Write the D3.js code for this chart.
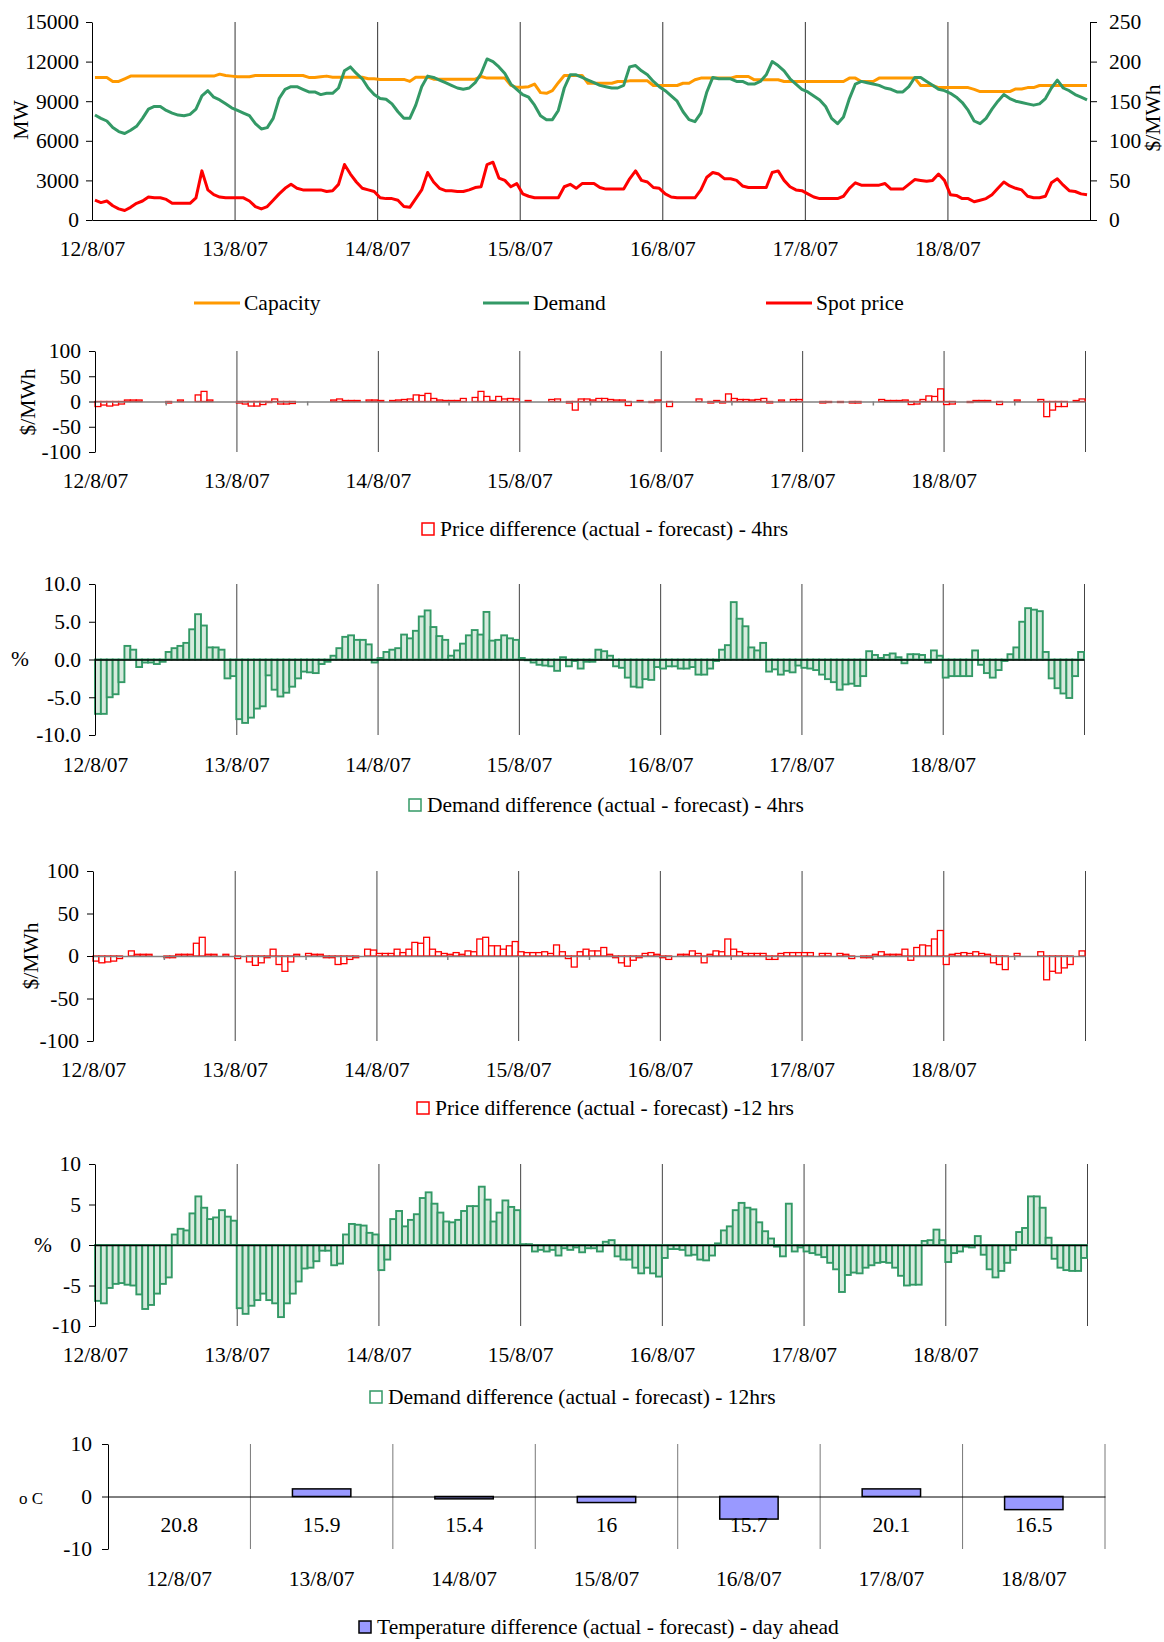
<!DOCTYPE html>
<html>
<head>
<meta charset="utf-8">
<script src="https://cdn.jsdelivr.net/npm/d3@7"></script>
<style>
  body { margin: 0; background: #fff; }
  svg { display: block; font-family: 'Liberation Serif', 'Times New Roman', serif; }
  text { fill: #000; }
</style>
</head>
<body>
<div id="app"></div>
<script>
// Hourly values, 12/8/07 00:00 to 18/8/07 23:00 (24 per day)
const dayLabels = ['12/8/07', '13/8/07', '14/8/07', '15/8/07', '16/8/07', '17/8/07', '18/8/07'];

// MW
const capacity = [
  10800,10800,10800,10500,10500,10700,10900,10900,10900,10900,10900,10900,10900,10900,10900,10900,10900,10900,10900,10900,10900,11050,10950,10900,
  10850,10850,10850,10950,10950,10950,10950,10950,10950,10950,10950,10950,10800,10800,10850,10900,10820,10820,10820,10820,10820,10820,10700,10700,
  10650,10650,10650,10650,10650,10500,10820,10820,10820,10670,10670,10670,10670,10670,10670,10670,10670,10870,10750,10750,10750,10750,10200,10050,
  10050,10100,10300,9650,9600,9800,10400,10950,10950,10950,10950,10360,10360,10360,10360,10360,10490,10490,10540,10540,10540,10540,10190,10190,
  10190,10190,10190,10360,10360,10620,10750,10750,10750,10750,10750,10750,10870,10870,10870,10620,10620,10620,10620,10620,10490,10490,10490,10490,
  10490,10490,10490,10490,10490,10490,10490,10750,10750,10490,10490,10490,10750,10750,10750,10750,10750,10750,10750,10190,10190,10190,10030,10030,
  10030,10030,10030,10030,9900,9730,9730,9730,9730,9730,9730,9930,9930,10030,10030,10190,10190,10190,10190,10190,10190,10190,10190,10190
];
const demand = [
  7950,7700,7500,7000,6700,6550,6800,7100,7700,8400,8600,8600,8300,8100,7950,7900,8000,8400,9400,9800,9300,9100,8800,8500,
  8300,8100,7900,7300,6900,7000,7700,9200,9900,10100,10100,9900,9700,9700,9500,9600,9600,10000,11300,11600,11100,10700,10000,9500,
  9200,9150,8800,8200,7700,7700,8700,10100,10900,10800,10600,10400,10200,10000,9900,10000,10400,11100,12200,12000,11600,11100,10300,9900,
  9500,9300,8700,7900,7600,7600,8300,10000,11000,11000,10800,10600,10400,10200,10100,10000,10000,10200,11600,11700,11300,11000,10500,10100,
  9800,9400,9000,8200,7600,7450,8100,9700,10800,10700,10700,10700,10500,10500,10300,10300,10500,11000,12000,11700,11300,10700,10300,9900,
  9700,9400,9100,8600,7700,7300,7800,9200,10300,10500,10400,10300,10200,10000,9900,9700,9700,10100,10800,10800,10500,10200,9900,9800,
  9600,9300,8900,8300,7500,7300,7700,8400,9000,9500,9200,9000,8900,8800,8700,8800,9200,10000,10600,10000,9800,9500,9300,9100
];
// $/MWh
const spotPrice = [
  25,22,24,18,14,12,16,21,24,29,28,28,26,21,21,21,21,28,62,38,32,29,28,28,
  28,28,24,17,14,17,25,33,40,45,40,38,38,38,38,36,37,45,70,58,48,40,38,36,
  28,27,27,25,17,16,27,38,60,48,40,37,37,36,36,38,41,42,70,73,53,50,42,46,
  33,30,28,28,28,28,28,42,45,40,46,46,46,41,39,39,39,39,52,62,50,48,41,40,
  33,29,28,28,28,28,38,54,60,58,52,52,50,43,41,41,41,41,60,62,50,42,38,37,
  33,29,27,27,27,27,30,40,47,44,44,44,44,46,39,39,39,45,51,50,49,50,58,50,
  32,31,27,27,23,25,27,32,40,48,43,40,38,30,28,28,30,47,52,44,37,36,33,32
];
// $/MWh, actual - forecast 4 hours ahead
const priceDiff4h = [
  -10,-7,-9,-7,-5,3,3,3,0,0,0,0,-3,0,3,0,0,13,20,3,0,0,0,0,
  -3,-5,-9,-9,-6,-2,5,-5,-5,-4,0,0,0,0,0,0,3,5,2,2,2,0,3,3,
  2,0,2,3,4,5,13,12,16,6,3,2,2,2,6,0,8,20,10,2,10,5,6,5,
  0,2,0,0,0,4,5,0,-3,-17,5,5,3,6,6,4,3,3,-8,0,2,0,-2,3,
  0,-10,0,0,0,0,5,0,-3,2,-3,15,6,4,4,3,4,6,-3,0,3,0,4,4,
  0,0,0,-3,-2,0,-2,0,-3,-3,0,0,0,4,2,2,2,3,-6,-5,4,11,10,25,
  -6,-5,0,0,-2,2,2,2,0,-6,0,0,3,0,0,0,4,-30,-17,-10,-10,0,2,5
];
// %, actual - forecast 4 hours ahead
const demandDiff4h = [
  -7.2,-7.2,-5.0,-4.6,-3.0,1.8,1.3,-1.0,-0.4,-0.4,-0.6,-0.3,1.0,1.5,1.8,2.2,4.0,6.0,4.5,1.6,1.6,1.3,-2.5,-2.2,
  -7.9,-8.4,-7.7,-6.5,-6.2,-2.1,-4.0,-4.9,-4.4,-3.6,-2.5,-1.6,-1.7,-1.8,-0.6,-0.3,0.5,1.5,3.0,3.2,2.6,2.6,2.0,-0.4,
  0.2,1.0,1.3,1.5,3.3,2.8,3.8,5.7,6.5,4.3,3.1,2.6,0.5,1.2,2.1,3.2,3.9,3.3,6.3,2.5,2.6,3.2,2.8,2.6,
  0.2,-0.1,-0.4,-0.7,-0.8,-0.9,-1.5,0.3,-0.9,-0.2,-1.2,-0.3,-0.3,1.3,1.1,0.5,-0.9,-1.1,-2.4,-3.6,-3.7,-2.6,-2.7,-1.0,
  -1.2,-0.9,-0.9,-1.2,-1.2,-1.0,-2.0,-2.0,-1.2,-0.2,1.3,1.9,7.6,5.4,4.4,1.6,1.2,2.2,-1.6,-1.3,-2.0,-1.5,-1.7,-0.8,
  -1.1,-1.2,-1.4,-2.0,-2.6,-3.0,-4.0,-3.3,-3.2,-3.5,-2.2,1.1,0.6,0.2,0.6,0.8,0.3,-0.5,0.7,0.7,0.6,-0.4,1.2,0.5,
  -2.4,-2.2,-2.2,-2.2,-2.2,1.2,-0.7,-1.8,-2.4,-1.4,-0.2,0.7,1.6,5.0,6.8,6.6,6.4,1.0,-2.5,-3.8,-4.5,-5.1,-2.2,1.0
];
// $/MWh, actual - forecast 12 hours ahead
const priceDiff12h = [
  -6,-8,-7,-6,-3,0,6,2,2,2,0,0,-2,-2,2,2,2,15,22,2,2,0,2,0,
  -3,0,-7,-11,-8,-2,8,-10,-18,-7,2,0,3,2,2,-2,-2,-10,-9,-4,-2,0,8,7,
  3,3,3,8,4,8,16,15,22,8,5,3,2,4,2,6,5,20,22,12,12,8,12,17,
  5,4,4,4,5,3,13,5,-3,-13,5,8,6,6,10,2,-2,-8,-12,-5,-2,3,4,2,
  -2,-4,0,2,2,6,3,-8,2,6,5,20,8,5,3,3,3,3,-4,-4,3,4,4,4,
  4,4,0,3,3,0,3,2,-3,0,-2,-2,2,5,2,2,2,8,-5,10,13,12,20,30,
  -10,2,3,4,3,5,3,2,-8,-10,-16,0,3,0,0,0,5,-28,-18,-20,-14,-10,0,6
];
// %, actual - forecast 12 hours ahead
const demandDiff12h = [
  -6.9,-7.2,-5.3,-4.8,-4.7,-4.9,-5.0,-6.1,-7.9,-7.4,-6.0,-4.8,-4.0,1.3,2.0,1.8,3.9,6.0,4.6,3.2,3.4,4.3,3.5,3.0,
  -7.8,-8.5,-7.5,-6.8,-6.0,-6.8,-7.2,-8.9,-7.2,-6.0,-4.5,-2.9,-2.8,-2.0,-0.7,-0.7,-2.5,-2.3,1.3,2.6,2.5,2.4,1.5,1.3,
  -3.1,-1.8,3.2,4.2,2.3,3.1,3.8,5.8,6.5,5.1,4.0,2.9,2.8,3.1,4.2,4.8,4.8,7.2,5.6,2.9,4.0,5.5,4.7,4.3,
  0.1,0.1,-0.8,-0.6,-0.8,-0.6,-1.3,-0.4,-0.6,-0.3,-0.9,-0.4,-0.4,-0.8,0.4,0.6,-1.4,-1.8,-1.8,-2.8,-3.5,-2.8,-3.5,-3.9,
  -1.6,-0.5,-0.5,-0.6,-1.3,-1.2,-1.8,-1.9,-1.3,0.2,1.8,2.3,4.3,5.2,4.6,4.4,2.8,1.7,0.8,-0.2,-1.4,5.1,-0.8,-0.3,
  -0.8,-1.0,-1.2,-1.5,-2.2,-3.0,-5.8,-3.7,-3.4,-3.5,-2.8,-2.5,-2.2,-2.1,-2.2,-2.8,-3.8,-5.0,-4.9,-4.9,0.5,0.6,1.9,0.6,
  -2.1,-1.0,-0.8,-0.2,-0.3,1.1,-1.2,-3.0,-4.0,-3.2,-2.2,-0.6,1.6,2.1,6.0,6.0,4.6,0.9,-1.7,-2.8,-3.1,-3.2,-3.2,-1.6
];
// daily, degrees C
const tempDiff = [0, 1.45, -0.45, -1.15, -4.3, 1.45, -2.5];
const tempActual = ['20.8', '15.9', '15.4', '16', '15.7', '20.1', '16.5'];

const nHours = 168;
const dayStarts = d3.range(0, nHours, 24);

const svg = d3.select('#app').append('svg')
  .attr('width', 1164)
  .attr('height', 1642);

svg.append('rect').attr('width', 1164).attr('height', 1642).attr('fill', '#fff');

const fontSize = 21.5;
const plain = d => String(d);

function label(x, y, txt, opts = {}) {
  const t = svg.append('text')
    .attr('x', x).attr('y', y)
    .attr('font-size', opts.size || fontSize)
    .attr('text-anchor', opts.anchor || 'start')
    .attr('dy', '0.35em')
    .text(txt);
  if (opts.rotate) t.attr('transform', `rotate(${opts.rotate},${x},${y})`);
  return t;
}

// d3 axes default to a small sans-serif font; use the page font instead
function styleAxis(g) {
  g.attr('font-family', null).attr('font-size', null);
  g.selectAll('text').attr('font-size', fontSize).attr('fill', '#000');
  g.selectAll('line, path').attr('stroke', '#000');
}

// ---------- top panel: capacity, demand, spot price ----------
{
  const x = d3.scaleLinear().domain([0, nHours]).range([92, 1090]);
  const yMW = d3.scaleLinear().domain([0, 15000]).range([220, 22]);
  const yPrice = d3.scaleLinear().domain([0, 250]).range([220, 22]);

  const grid = svg.append('g').attr('transform', 'translate(0,22)')
    .call(d3.axisBottom(x).tickValues(d3.range(24, nHours, 24)).tickSize(198).tickFormat(''));
  grid.select('.domain').remove();
  grid.selectAll('line').attr('stroke', '#333');

  const line = y => d3.line().x((d, i) => x(i + 0.5)).y(d => y(d));

  svg.append('path').datum(capacity)
    .attr('d', line(yMW)).attr('fill', 'none')
    .attr('stroke', '#ff9900').attr('stroke-width', 3).attr('stroke-linejoin', 'round');
  svg.append('path').datum(demand)
    .attr('d', line(yMW)).attr('fill', 'none')
    .attr('stroke', '#339966').attr('stroke-width', 3).attr('stroke-linejoin', 'round');
  svg.append('path').datum(spotPrice)
    .attr('d', line(yPrice)).attr('fill', 'none')
    .attr('stroke', '#ff0000').attr('stroke-width', 3).attr('stroke-linejoin', 'round');

  svg.append('g').attr('transform', 'translate(92,0)')
    .call(d3.axisLeft(yMW).tickValues(d3.range(0, 15001, 3000)).tickFormat(plain)
      .tickSize(6).tickPadding(7).tickSizeOuter(0))
    .call(styleAxis);
  svg.append('g').attr('transform', 'translate(1090,0)')
    .call(d3.axisRight(yPrice).tickValues(d3.range(0, 251, 50)).tickFormat(plain)
      .tickSize(7).tickPadding(12).tickSizeOuter(0))
    .call(styleAxis);
  svg.append('g').attr('transform', 'translate(0,220)')
    .call(d3.axisBottom(x).tickValues([]).tickSizeOuter(0))
    .call(styleAxis);

  const xl = svg.append('g').attr('transform', 'translate(0,241)')
    .call(d3.axisBottom(x).tickValues(dayStarts).tickFormat((d, i) => dayLabels[i]).tickSize(0).tickPadding(0))
    .call(styleAxis);
  xl.select('.domain').remove();

  label(20, 120, 'MW', { anchor: 'middle', rotate: -90 });
  label(1152, 118, '$/MWh', { anchor: 'middle', rotate: -90 });

  const leg = [
    { x: 194, text: 'Capacity', color: '#ff9900' },
    { x: 483, text: 'Demand', color: '#339966' },
    { x: 766, text: 'Spot price', color: '#ff0000' }
  ];
  leg.forEach(l => {
    svg.append('line').attr('x1', l.x).attr('x2', l.x + 46).attr('y1', 303).attr('y2', 303)
      .attr('stroke', l.color).attr('stroke-width', 3);
    label(l.x + 50, 302, l.text);
  });
}

// ---------- hourly difference panels ----------
function barPanel(o) {
  const x = d3.scaleLinear().domain([0, nHours]).range([o.x0, o.x1]);
  const y = d3.scaleLinear().domain([o.min, o.max]).range([o.y1, o.y0]);

  const grid = svg.append('g').attr('transform', `translate(0,${o.y0})`)
    .call(d3.axisBottom(x).tickValues(d3.range(24, nHours + 1, 24)).tickSize(o.y1 - o.y0).tickFormat(''));
  grid.select('.domain').remove();
  grid.selectAll('line').attr('stroke', '#444');

  const pts = o.values.map((v, i) => ({ v, i })).filter(d => d.v !== 0);
  svg.append('g').selectAll('rect').data(pts).join('rect')
    .attr('x', d => x(d.i))
    .attr('width', d => x(d.i + 1) - x(d.i))
    .attr('y', d => y(Math.max(0, d.v)))
    .attr('height', d => Math.abs(y(d.v) - y(0)))
    .attr('fill', o.fill)
    .attr('stroke', o.color)
    .attr('stroke-width', o.sw);

  const zero = svg.append('g').attr('transform', `translate(0,${y(0)})`)
    .call(d3.axisBottom(x).tickValues(o.midTicks ? d3.range(12, nHours, 24) : []).tickSize(4).tickFormat('').tickSizeOuter(0));
  zero.selectAll('line, path').attr('stroke', o.zeroColor).attr('stroke-width', 1.5);

  svg.append('g').attr('transform', `translate(${o.x0},0)`)
    .call(d3.axisLeft(y).tickValues(o.ticks).tickFormat(o.fmt).tickSize(6).tickPadding(8).tickSizeOuter(0))
    .call(styleAxis);

  const xl = svg.append('g').attr('transform', `translate(0,${o.labelY})`)
    .call(d3.axisBottom(x).tickValues(dayStarts).tickFormat((d, i) => dayLabels[i]).tickSize(0).tickPadding(0))
    .call(styleAxis);
  xl.select('.domain').remove();

  if (o.yTitle.rotate) label(o.yTitle.x, o.yTitle.y, o.yTitle.text, { anchor: 'middle', rotate: -90 });
  else label(o.yTitle.x, o.yTitle.y, o.yTitle.text, { anchor: 'middle' });

  svg.append('rect')
    .attr('x', o.legend.x).attr('y', o.legend.y - 6).attr('width', 12).attr('height', 12)
    .attr('fill', '#fff').attr('stroke', o.color).attr('stroke-width', 1.5);
  label(o.legend.x + 18, o.legend.y - 1, o.legend.text);
}

barPanel({
  values: priceDiff4h, x0: 95, x1: 1085, y0: 351, y1: 452, min: -100, max: 100,
  ticks: [-100, -50, 0, 50, 100], fmt: plain,
  color: '#ff0000', fill: '#fff', sw: 1.3, zeroColor: '#808080', midTicks: true,
  labelY: 473, yTitle: { text: '$/MWh', x: 27, y: 402, rotate: true },
  legend: { x: 422, y: 529, text: 'Price difference (actual - forecast) - 4hrs' }
});

barPanel({
  values: demandDiff4h, x0: 95, x1: 1084, y0: 584, y1: 735, min: -10, max: 10,
  ticks: [-10, -5, 0, 5, 10], fmt: d => d.toFixed(1),
  color: '#339966', fill: '#d6eadd', sw: 1.9, zeroColor: '#000', midTicks: false,
  labelY: 757, yTitle: { text: '%', x: 20, y: 658, rotate: false },
  legend: { x: 409, y: 805, text: 'Demand difference (actual - forecast) - 4hrs' }
});

barPanel({
  values: priceDiff12h, x0: 93, x1: 1085, y0: 871, y1: 1041, min: -100, max: 100,
  ticks: [-100, -50, 0, 50, 100], fmt: plain,
  color: '#ff0000', fill: '#fff', sw: 1.3, zeroColor: '#808080', midTicks: true,
  labelY: 1062, yTitle: { text: '$/MWh', x: 30, y: 956, rotate: true },
  legend: { x: 417, y: 1108, text: 'Price difference (actual - forecast) -12 hrs' }
});

barPanel({
  values: demandDiff12h, x0: 95, x1: 1087, y0: 1164, y1: 1326, min: -10, max: 10,
  ticks: [-10, -5, 0, 5, 10], fmt: plain,
  color: '#339966', fill: '#d6eadd', sw: 1.9, zeroColor: '#000', midTicks: false,
  labelY: 1347, yTitle: { text: '%', x: 43, y: 1244, rotate: false },
  legend: { x: 370, y: 1397, text: 'Demand difference (actual - forecast) - 12hrs' }
});

// ---------- daily temperature difference ----------
{
  const x = d3.scaleBand().domain(dayLabels).range([108, 1105]);
  const y = d3.scaleLinear().domain([-10, 10]).range([1549, 1444]);
  const bw = x.bandwidth() * 0.41;

  svg.append('g').selectAll('line').data(dayLabels).join('line')
    .attr('x1', d => x(d) + x.bandwidth()).attr('x2', d => x(d) + x.bandwidth())
    .attr('y1', 1444).attr('y2', 1549)
    .attr('stroke', '#555').attr('stroke-width', 0.8);

  svg.append('g').selectAll('rect').data(dayLabels).join('rect')
    .attr('x', d => x(d) + (x.bandwidth() - bw) / 2)
    .attr('width', bw)
    .attr('y', (d, i) => y(Math.max(0, tempDiff[i])))
    .attr('height', (d, i) => Math.abs(y(tempDiff[i]) - y(0)))
    .attr('fill', '#9999ff')
    .attr('stroke', '#000')
    .attr('stroke-width', 1.5);

  svg.append('g').attr('transform', `translate(0,${y(0)})`)
    .call(d3.axisBottom(x).tickValues([]).tickSizeOuter(0))
    .call(styleAxis);

  svg.append('g').attr('transform', 'translate(108,0)')
    .call(d3.axisLeft(y).tickValues([-10, 0, 10]).tickFormat(plain).tickSize(6).tickPadding(10).tickSizeOuter(0))
    .call(styleAxis);

  svg.append('g').selectAll('text').data(tempActual).join('text')
    .attr('x', (d, i) => x(dayLabels[i]) + x.bandwidth() / 2)
    .attr('y', 1524).attr('dy', '0.35em')
    .attr('text-anchor', 'middle').attr('font-size', fontSize)
    .text(d => d);

  const xl = svg.append('g').attr('transform', 'translate(0,1571)')
    .call(d3.axisBottom(x).tickSize(0).tickPadding(0))
    .call(styleAxis);
  xl.select('.domain').remove();

  label(31, 1498, 'o C', { anchor: 'middle', size: 17 });

  svg.append('rect').attr('x', 359).attr('y', 1621).attr('width', 12).attr('height', 12)
    .attr('fill', '#9999ff').attr('stroke', '#000').attr('stroke-width', 1.5);
  label(377, 1626, 'Temperature difference (actual - forecast) - day ahead');
}
</script>
</body>
</html>
